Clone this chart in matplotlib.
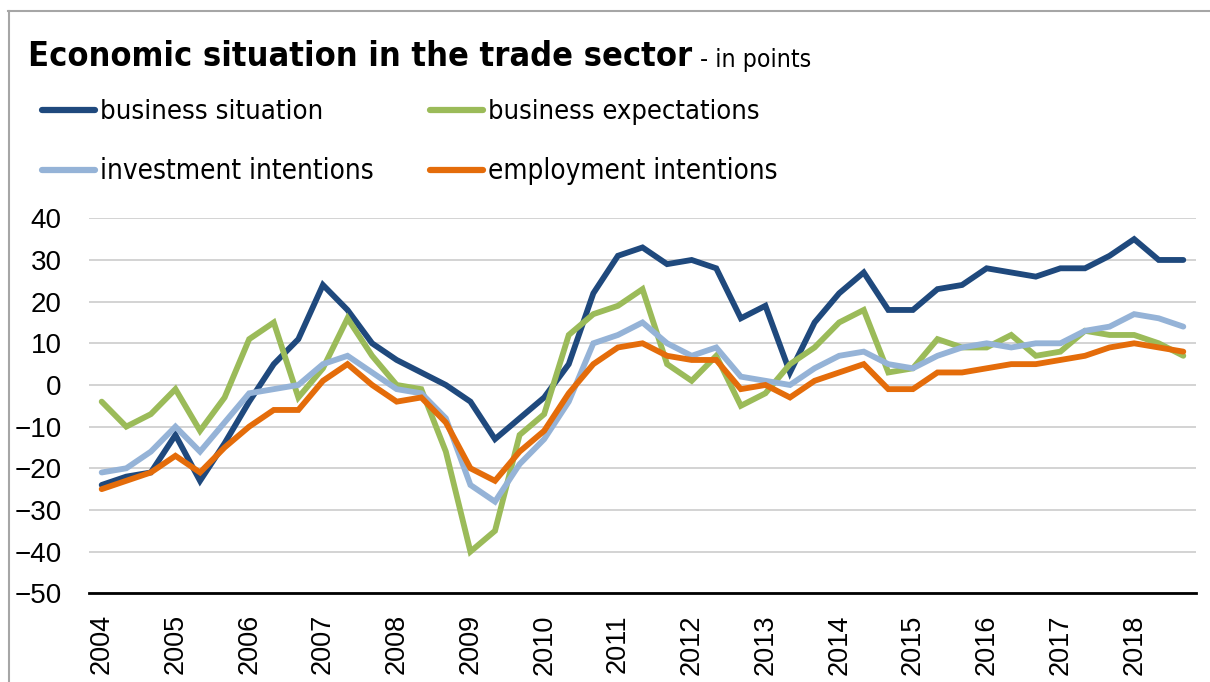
import matplotlib
matplotlib.use("Agg")
import matplotlib.pyplot as plt
import matplotlib.font_manager as fm
from matplotlib.lines import Line2D
import numpy as np

years = [str(y) for y in range(2004, 2019)]
periods_per_year = 3

business_situation = [-24, -22, -21, -12, -23, -14, -4, 5, 11, 24, 18, 10, 6, 3, 0,
                      -4, -13, -8, -3, 5, 22, 31, 33, 29, 30, 28, 16, 19, 3, 15,
                      22, 27, 18, 18, 23, 24, 28, 27, 26, 28, 28, 31, 35, 30, 30]
business_expectations = [-4, -10, -7, -1, -11, -3, 11, 15, -3, 4, 16, 7, 0, -1, -16,
                         -40, -35, -12, -7, 12, 17, 19, 23, 5, 1, 7, -5, -2, 5, 9,
                         15, 18, 3, 4, 11, 9, 9, 12, 7, 8, 13, 12, 12, 10, 7]
investment_intentions = [-21, -20, -16, -10, -16, -9, -2, -1, 0, 5, 7, 3, -1, -2, -8,
                         -24, -28, -19, -13, -4, 10, 12, 15, 10, 7, 9, 2, 1, 0, 4,
                         7, 8, 5, 4, 7, 9, 10, 9, 10, 10, 13, 14, 17, 16, 14]
employment_intentions = [-25, -23, -21, -17, -21, -15, -10, -6, -6, 1, 5, 0, -4, -3, -9,
                         -20, -23, -16, -11, -2, 5, 9, 10, 7, 6, 6, -1, 0, -3, 1,
                         3, 5, -1, -1, 3, 3, 4, 5, 5, 6, 7, 9, 10, 9, 8]

series_names = ["business situation", "business expectations",
                "investment intentions", "employment intentions"]
colors = ["#1F497D", "#9BBB59", "#95B3D7", "#E46C0A"]
title_text = "Economic situation in the trade sector"
subtitle_text = "- in points"

plt.rcParams["font.family"] = ["Liberation Sans", "DejaVu Sans"]


def narrow_font(bold=False):
    """Find a condensed/narrow sans font if one is installed, else Lato."""
    want = "bold" if bold else "normal"
    prefs = ["Liberation Sans Narrow", "DejaVu Sans", "Roboto Condensed",
             "Open Sans Condensed", "Noto Sans"]
    fonts = fm.fontManager.ttflist
    for fam in prefs:
        for f in fonts:
            if f.name == fam and ("ondensed" in f.fname or "arrow" in f.fname
                                  or f.stretch in ("condensed", "semi-condensed")
                                  or "Narrow" in fam or "Condensed" in fam):
                w = f.weight if isinstance(f.weight, int) else (700 if f.weight == "bold" else 400)
                isbold = w >= 600
                if isbold == bold and f.style == "normal":
                    return fm.FontProperties(fname=f.fname)
    return fm.FontProperties(family=["Lato", "DejaVu Sans"], weight=want)


fp_title = narrow_font(bold=True)
fp_text = narrow_font(bold=False)

W, H = 1210, 682
fig = plt.figure(figsize=(W / 100, H / 100), dpi=100)
ax = fig.add_axes([89.4 / W, 1 - 593.3 / H, (1195.6 - 89.4) / W, (593.3 - 218.3) / H])

x = np.arange(len(business_situation))
data = [business_situation, business_expectations, investment_intentions, employment_intentions]
for vals, c, name in zip(data, colors, series_names):
    ax.plot(x, vals, color=c, lw=4.2, solid_joinstyle="miter",
            solid_capstyle="round", label=name, zorder=3)

ax.set_xlim(-0.5, len(x) - 0.5)
ax.set_ylim(-50, 40)
ax.set_yticks(np.arange(-50, 41, 10))
ax.yaxis.grid(True, color="#d0d0d0", lw=1.3)
ax.set_axisbelow(True)
for s in ["top", "right", "left"]:
    ax.spines[s].set_visible(False)
ax.spines["bottom"].set_color("black")
ax.spines["bottom"].set_linewidth(2)
ax.spines["bottom"].set_zorder(4)
ax.tick_params(axis="y", length=0, pad=20, labelsize=20)
ax.set_xticks(np.arange(0, len(x), periods_per_year))
ax.set_xticklabels(years, rotation=90, fontsize=19.5)
ax.tick_params(axis="x", length=0, pad=15)

renderer = fig.canvas.get_renderer()


def fit_text(xpx, ypx, s, fp, width_px, size0):
    t = fig.text(xpx / W, 1 - ypx / H, s, fontproperties=fp, va="baseline", ha="left")
    t.set_fontsize(size0)
    w = t.get_window_extent(renderer).width
    t.set_fontsize(size0 * width_px / w)
    return t


# title and subtitle
t_title = fit_text(28, 66, title_text, fp_title, 662, 24)
t_sub = fit_text(700, 67, subtitle_text, fp_text, 112, 14)

# legend (manual placement, two rows x two columns)
leg_pos = [(42, 110), (430, 110), (42, 170), (430, 170)]
text_widths = [222, 270, 272, 288]
for (lx, ly), c, name, tw in zip(leg_pos, colors, series_names, text_widths):
    fig.add_artist(Line2D([lx / W, (lx + 53) / W], [1 - ly / H, 1 - ly / H],
                          transform=fig.transFigure, color=c, lw=4.5,
                          solid_capstyle="round"))
    fit_text(lx + 58, ly + 9, name, fp_text, tw, 18)

# frame
fig.add_artist(Line2D([8 / W, 1.0], [1 - 11 / H, 1 - 11 / H],
                      transform=fig.transFigure, color="#a6a6a6", lw=1.5))
fig.add_artist(Line2D([9 / W, 9 / W], [0, 1 - 11 / H],
                      transform=fig.transFigure, color="#a6a6a6", lw=1.5))

fig.savefig("out.png", dpi=100)
